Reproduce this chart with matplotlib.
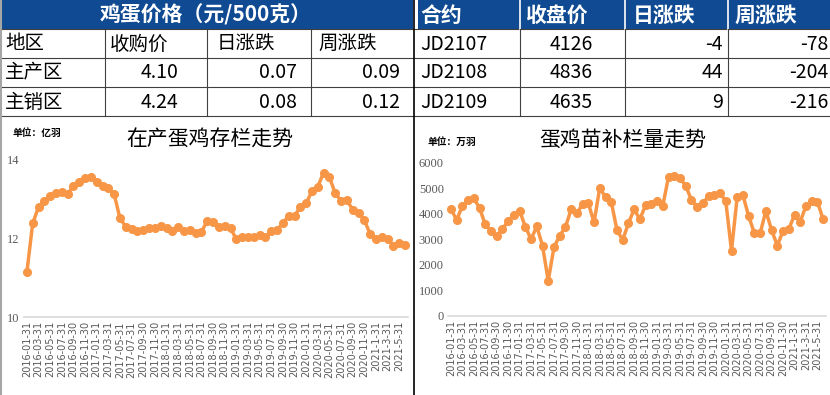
import matplotlib
matplotlib.use('Agg')
import matplotlib.pyplot as plt
from matplotlib.patches import Rectangle

plt.rcParams['font.family'] = ['Noto Sans CJK SC', 'DejaVu Sans']

# monthly series, 2016-01 .. 2021-06
tick_labels = [
    "2016-01-31", "2016-03-31", "2016-05-31", "2016-07-31", "2016-09-30", "2016-11-30",
    "2017-01-31", "2017-03-31", "2017-05-31", "2017-07-31", "2017-09-30", "2017-11-30",
    "2018-01-31", "2018-03-31", "2018-05-31", "2018-07-31", "2018-09-30", "2018-11-30",
    "2019-01-31", "2019-03-31", "2019-05-31", "2019-07-31", "2019-09-30", "2019-11-30",
    "2020-01-31", "2020-03-31", "2020-05-31", "2020-07-31", "2020-09-30", "2020-11-30",
    "2021-1-31", "2021-3-31", "2021-5-31",
]

layers = [
    11.15, 12.39, 12.80, 12.96, 13.08, 13.15, 13.18, 13.13, 13.35, 13.43, 13.53, 13.56,
    13.45, 13.35, 13.28, 13.13, 12.51, 12.30, 12.24, 12.19, 12.22, 12.26, 12.26, 12.32,
    12.27, 12.18, 12.29, 12.19, 12.22, 12.13, 12.17, 12.45, 12.41, 12.29, 12.33, 12.26,
    11.98, 12.05, 12.05, 12.05, 12.09, 12.03, 12.19, 12.22, 12.39, 12.58, 12.58, 12.80,
    12.90, 13.21, 13.32, 13.68, 13.56, 13.15, 12.96, 12.98, 12.73, 12.64, 12.47, 12.11,
    11.99, 12.05, 11.99, 11.82, 11.89, 11.83,
]

chicks = [
    4200, 3750, 4300, 4530, 4600, 4230, 3580, 3320, 3120, 3390, 3720, 3950,
    4120, 3490, 3000, 3500, 2750, 1370, 2680, 3140, 3470, 4170, 4020, 4370,
    4410, 3660, 5020, 4640, 4470, 3360, 2970, 3620, 4170, 3780, 4340, 4380,
    4500, 4300, 5450, 5480, 5390, 5100, 4540, 4270, 4410, 4690, 4720, 4810,
    4490, 2550, 4670, 4720, 3900, 3230, 3230, 4110, 3360, 2750, 3320, 3400,
    3940, 3690, 4300, 4490, 4470, 3780,
]

price_title = "鸡蛋价格（元/500克）"
price_header = ["地区", "收购价", "日涨跌", "周涨跌"]
price_rows = [["主产区", "4.10", "0.07", "0.09"],
              ["主销区", "4.24", "0.08", "0.12"]]

fut_header = ["合约", "收盘价", "日涨跌", "周涨跌"]
fut_rows = [["JD2107", "4126", "-4", "-78"],
            ["JD2108", "4836", "44", "-204"],
            ["JD2109", "4635", "9", "-216"]]

BLUE = '#0F4A92'
ORANGE = '#F79646'
W, H = 830, 395

fig = plt.figure(figsize=(W / 100, H / 100), dpi=100)

# overlay in pixel coordinates for the tables and frame lines
ov = fig.add_axes([0, 0, 1, 1])
ov.set_xlim(0, W)
ov.set_ylim(H, 0)
ov.axis('off')

ov.add_patch(Rectangle((0, 0), 413, 29, color=BLUE, lw=0))
ov.add_patch(Rectangle((418, 0), 412, 29, color=BLUE, lw=0))
for y in (29, 58, 87, 116):
    ov.plot([0, W], [y, y], color='#404040', lw=0.8)
for x in (105, 207, 311):
    ov.plot([x, x], [29, 116], color='#404040', lw=0.8)
for x in (520, 625, 728):
    ov.plot([x, x], [0, 29], color='white', lw=1.2)
    ov.plot([x, x], [29, 116], color='#404040', lw=0.8)
ov.plot([414, 414], [0, H], color='black', lw=1.2)
ov.plot([1, 1], [0, H], color='#A6A6A6', lw=1.5)

ov.text(206, 15, price_title, color='white', fontsize=15, fontweight='bold',
        ha='center', va='center')
cols_left = [5, 110, 217, 318]
for txt, x in zip(price_header, cols_left):
    ov.text(x, 44, txt, fontsize=14, ha='left', va='center')
num_right = [178, 297, 400]
for r, row in enumerate(price_rows):
    yc = 73 + r * 29
    ov.text(5, yc, row[0], fontsize=14, ha='left', va='center')
    for txt, x in zip(row[1:], num_right):
        ov.text(x, yc, txt, fontsize=14, ha='right', va='center')

fut_left = [420, 525, 633, 735]
for txt, x in zip(fut_header, fut_left):
    ov.text(x, 15, txt, color='white', fontsize=15, fontweight='bold',
            ha='left', va='center')
fut_right = [593, 723, 828]
for r, row in enumerate(fut_rows):
    yc = 44 + r * 29
    ov.text(420, yc, row[0], fontsize=14, ha='left', va='center')
    for txt, x in zip(row[1:], fut_right):
        ov.text(x, yc, txt, fontsize=14, ha='right', va='center')

# chart titles and units
ov.text(210, 140, "在产蛋鸡存栏走势", fontsize=15, ha='center', va='center')
ov.text(12, 133, "单位：亿羽", fontsize=7, fontweight='bold', ha='left', va='center')
ov.text(623, 140, "蛋鸡苗补栏量走势", fontsize=15, ha='center', va='center')
ov.text(427, 142, "单位：万羽", fontsize=7, fontweight='bold', ha='left', va='center')


def style(ax, ylim, yticks, yfont):
    ax.set_facecolor('none')
    ax.set_xlim(-0.5, len(layers) - 0.5)
    ax.set_ylim(*ylim)
    ax.set_yticks(yticks)
    ax.set_xticks(range(0, len(layers), 2))
    ax.set_xticklabels(tick_labels, rotation=90, fontsize=7, color='#595959',
                       family='DejaVu Sans')
    for lab in ax.get_yticklabels():
        lab.set_family(yfont)
        lab.set_fontsize(9)
        lab.set_color('#595959')
    ax.tick_params(length=0, pad=3)
    for s in ('top', 'right', 'left'):
        ax.spines[s].set_visible(False)
    ax.spines['bottom'].set_color('#D9D9D9')
    ax.spines['bottom'].set_linewidth(1.2)


ax1 = fig.add_axes([24 / W, 1 - 317 / H, 384 / W, 157 / H])
ax1.plot(range(len(layers)), layers, color=ORANGE, lw=2.5, marker='o', ms=5.5,
         clip_on=False)
style(ax1, (10, 14), [10, 12, 14], 'Liberation Serif')

ax2 = fig.add_axes([448 / W, 1 - 315.7 / H, 378 / W, 153 / H])
ax2.plot(range(len(chicks)), chicks, color=ORANGE, lw=2.5, marker='o', ms=5.5,
         clip_on=False)
style(ax2, (0, 6000), range(0, 6001, 1000), 'Liberation Serif')

fig.savefig('out.png', dpi=100)
